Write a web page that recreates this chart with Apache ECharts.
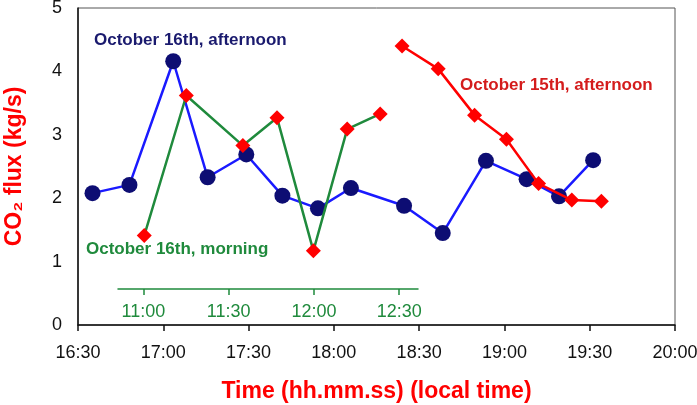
<!DOCTYPE html>
<html><head><meta charset="utf-8">
<script src="https://cdn.jsdelivr.net/npm/echarts@6/dist/echarts.min.js"></script>
<style>html,body{margin:0;padding:0;background:#fff}#c{width:697px;height:405px}</style>
</head><body><div id="c"></div>
<script>
// Oct 16th afternoon (blue circles)
const blueTimes = ['16:35:06','16:48:06','17:03:30','17:15:36','17:29:12','17:41:54','17:54:24','18:06:00','18:24:42','18:38:18','18:53:30','19:07:48','19:19:12','19:31:12'];
const blueFlux  = [2.08,2.21,4.16,2.33,2.69,2.04,1.84,2.16,1.88,1.45,2.59,2.30,2.03,2.60];
// Oct 15th afternoon (red)
const redTimes = ['18:24:00','18:36:42','18:49:30','19:00:42','19:12:00','19:23:42','19:34:06'];
const redFlux  = [4.40,4.04,3.31,2.93,2.23,1.97,1.95];
// Oct 16th morning (green, secondary time axis)
const greenTimes = ['11:00:18','11:15:06','11:35:00','11:47:00','11:59:48','12:11:42','12:23:18'];
const greenFlux  = [1.41,3.62,2.83,3.27,1.17,3.09,3.33];
// Tick labels
const afternoonTicks = ['16:30','17:00','17:30','18:00','18:30','19:00','19:30','20:00'];
const morningTicks = ['11:00','11:30','12:00','12:30'];
const fluxTicks = [0,1,2,3,4,5];

function toMin(s){const p=s.split(':').map(Number);return p[0]*60+p[1]+(p[2]||0)/60;}
function fmt(m){m=Math.round(m);const h=Math.floor(m/60),mm=m%60;return h+':'+(mm<10?'0':'')+mm;}

const mainMin = toMin(afternoonTicks[0]), mainMax = toMin(afternoonTicks[afternoonTicks.length-1]);
const shift = 353; // morning axis offset (minutes) against afternoon axis
const gLeft = 78, gRight = 22, gWidth = 697 - gLeft - gRight;
const pxPerMin = gWidth / (mainMax - mainMin);
const stripLeft = 118, stripRight = 418;
const morningMin = mainMin - shift + (stripLeft - gLeft) / pxPerMin;
const morningMax = mainMin - shift + (stripRight - gLeft) / pxPerMin;

const chart = echarts.init(document.getElementById('c'), null, {renderer:'canvas'});
const FONT = 'Liberation Sans, Arial, sans-serif';
chart.setOption({
  animation:false,
  textStyle:{fontFamily:FONT},
  grid:[
    {left:gLeft, right:gRight, top:8, bottom:80, show:true, borderColor:'#555', borderWidth:1, containLabel:false, outerBoundsMode:'none'},
    {left:stripLeft, width:stripRight-stripLeft, top:288, height:1, show:false, containLabel:false, outerBoundsMode:'none'}
  ],
  xAxis:[
    {type:'value', gridIndex:0, min:mainMin, max:mainMax, interval:30,
     axisLine:{show:true, onZero:false, lineStyle:{color:'#111', width:1.5}},
     axisTick:{show:true, inside:false, length:6, lineStyle:{color:'#111', width:1.5}},
     splitLine:{show:false},
     axisLabel:{color:'#111', fontSize:18, margin:19, fontFamily:FONT, formatter:v=>fmt(v), showMinLabel:true, showMaxLabel:true},
     name:'Time (hh.mm.ss) (local time)', nameLocation:'middle', nameGap:55,
     nameTextStyle:{color:'#ff0000', fontSize:23, fontWeight:'bold', fontFamily:FONT}},
    {type:'value', gridIndex:0, min:mainMin-shift, max:mainMax-shift, show:false},
    {type:'value', gridIndex:1, min:morningMin, max:morningMax, position:'bottom',
     axisLine:{show:true, onZero:false, lineStyle:{color:'#1f8a3c', width:1.5}},
     axisTick:{show:true, length:6, customValues:morningTicks.map(toMin), lineStyle:{color:'#1f8a3c', width:1.5}},
     axisLabel:{color:'#1f8a3c', fontSize:18, margin:14, fontFamily:FONT, customValues:morningTicks.map(toMin), formatter:v=>fmt(v)},
     splitLine:{show:false}}
  ],
  yAxis:[
    {type:'value', gridIndex:0, min:fluxTicks[0], max:fluxTicks[fluxTicks.length-1], interval:1,
     axisLine:{show:true, lineStyle:{color:'#111', width:1.5}},
     axisTick:{show:false}, splitLine:{show:false},
     axisLabel:{color:'#111', fontSize:18, margin:16, fontFamily:FONT},
     name:'CO\u2082 flux (kg/s)', nameLocation:'middle', nameGap:52, nameRotate:90,
     nameTextStyle:{color:'#ff0000', fontSize:23, fontWeight:'bold', fontFamily:FONT}},
    {type:'value', gridIndex:1, show:false, min:0, max:1}
  ],
  series:[
    {type:'line', xAxisIndex:0, yAxisIndex:0, data:blueTimes.map((t,i)=>[toMin(t),blueFlux[i]]),
     symbol:'circle', symbolSize:16, lineStyle:{color:'#1a1aff', width:2.5},
     itemStyle:{color:'#0d0d73'}, z:2},
    {type:'line', xAxisIndex:1, yAxisIndex:0, data:greenTimes.map((t,i)=>[toMin(t),greenFlux[i]]),
     symbol:'diamond', symbolSize:15, lineStyle:{color:'#1f8a3c', width:2.5},
     itemStyle:{color:'#ff0000'}, z:3},
    {type:'line', xAxisIndex:0, yAxisIndex:0, data:redTimes.map((t,i)=>[toMin(t),redFlux[i]]),
     symbol:'diamond', symbolSize:15, lineStyle:{color:'#ff0000', width:2.5},
     itemStyle:{color:'#ff0000'}, z:4}
  ],
  graphic:[
    {type:'text', x:94, y:40, style:{text:'October 16th, afternoon', fill:'#1a1a6e', font:'bold 17px '+FONT, textVerticalAlign:'middle', verticalAlign:'middle'}},
    {type:'text', x:460, y:85, style:{text:'October 15th, afternoon', fill:'#d41c1c', font:'bold 17px '+FONT, textVerticalAlign:'middle', verticalAlign:'middle'}},
    {type:'text', x:86, y:249, style:{text:'October 16th, morning', fill:'#1f8a3c', font:'bold 17px '+FONT, textVerticalAlign:'middle', verticalAlign:'middle'}}
  ]
});
</script></body></html>
